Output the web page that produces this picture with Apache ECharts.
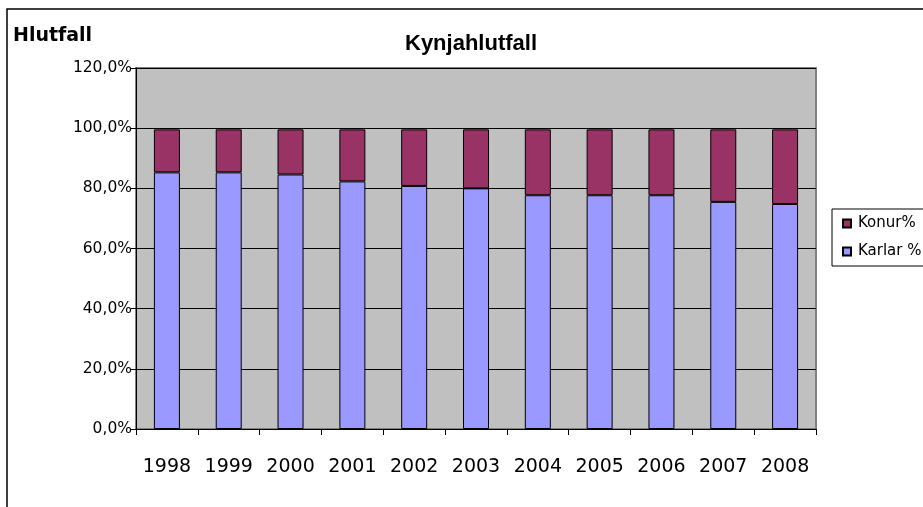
<!DOCTYPE html>
<html lang="is" style="height: 100%">

<head>
  <meta charset="utf-8">
</head>

<body style="height: 100%; margin: 0; background-color: #fff">
  <div id="container" style="height: 100%"></div>

  <script type="text/javascript" src="https://cdn.jsdelivr.net/npm/echarts@6/dist/echarts.min.js"></script>

  <script type="text/javascript">
    var years = ['1998', '1999', '2000', '2001', '2002', '2003', '2004', '2005', '2006', '2007', '2008'];
    var karlar = [85.3, 85.3, 84.6, 82.3, 80.8, 80.0, 77.7, 77.7, 77.7, 75.5, 74.8];
    var konur = [14.3, 14.3, 15.0, 17.3, 18.8, 19.6, 21.9, 21.9, 21.9, 24.1, 24.8];
    var legendNames = ['Konur%', 'Karlar %'];

    var dom = document.getElementById('container');
    var myChart = echarts.init(dom, null, { renderer: 'canvas' });

    var option = {
      animation: false,
      title: [{
        text: 'Hlutfall',
        left: 8,
        top: 22,
        textStyle: { fontFamily: 'DejaVu Sans', fontWeight: 'bold', fontSize: 19, color: '#000' }
      }, {
        text: 'Kynjahlutfall',
        left: 466,
        top: 28,
        textAlign: 'center',
        textStyle: { fontFamily: 'Liberation Sans', fontWeight: 'bold', fontSize: 22, color: '#000' }
      }],
      // outer chart frame (runs past the window on the right and bottom)
      graphic: [{
        type: 'rect',
        shape: { x: 7, y: 9, width: 1000, height: 600 },
        style: { fill: 'none', stroke: '#000', lineWidth: 1.5 },
        silent: true,
        z: -1
      }],
      legend: {
        data: legendNames,
        orient: 'vertical',
        left: 832,
        top: 209,
        padding: [7, 30, 7, 10],
        itemGap: 13,
        itemWidth: 8,
        itemHeight: 8,
        borderColor: '#000',
        borderWidth: 1,
        icon: 'rect',
        textStyle: { fontFamily: 'DejaVu Sans', fontSize: 15, color: '#000', padding: [0, 0, 0, 2] }
      },
      grid: {
        left: 136,
        right: 107,
        top: 68,
        bottom: 78,
        show: true,
        backgroundColor: '#C0C0C0',
        borderColor: '#808080',
        borderWidth: 2
      },
      xAxis: {
        type: 'category',
        data: years,
        axisLine: { lineStyle: { color: '#000', width: 1 } },
        axisTick: { show: true, length: 6, interval: 0, lineStyle: { color: '#000' } },
        axisLabel: { interval: 0, fontFamily: 'DejaVu Sans', fontSize: 19, color: '#000', margin: 29 }
      },
      yAxis: {
        type: 'value',
        min: 0,
        max: 120,
        interval: 20,
        axisLine: { show: true, lineStyle: { color: '#000', width: 1 } },
        axisTick: { show: true, length: 5, lineStyle: { color: '#000' } },
        splitLine: { lineStyle: { color: '#000', width: 1 } },
        axisLabel: {
          fontFamily: 'DejaVu Sans',
          fontSize: 15.5,
          color: '#000',
          margin: 4,
          formatter: function (v) { return v.toFixed(1).replace('.', ',') + '%'; }
        }
      },
      series: [{
        name: 'Karlar %',
        type: 'bar',
        stack: 'total',
        barWidth: 26,
        data: karlar,
        itemStyle: { color: '#9999FF', borderColor: '#000', borderWidth: 1 }
      }, {
        name: 'Konur%',
        type: 'bar',
        stack: 'total',
        barWidth: 26,
        data: konur,
        itemStyle: { color: '#993366', borderColor: '#000', borderWidth: 1 }
      }]
    };

    myChart.setOption(option);
    window.addEventListener('resize', myChart.resize);
  </script>
</body>

</html>
